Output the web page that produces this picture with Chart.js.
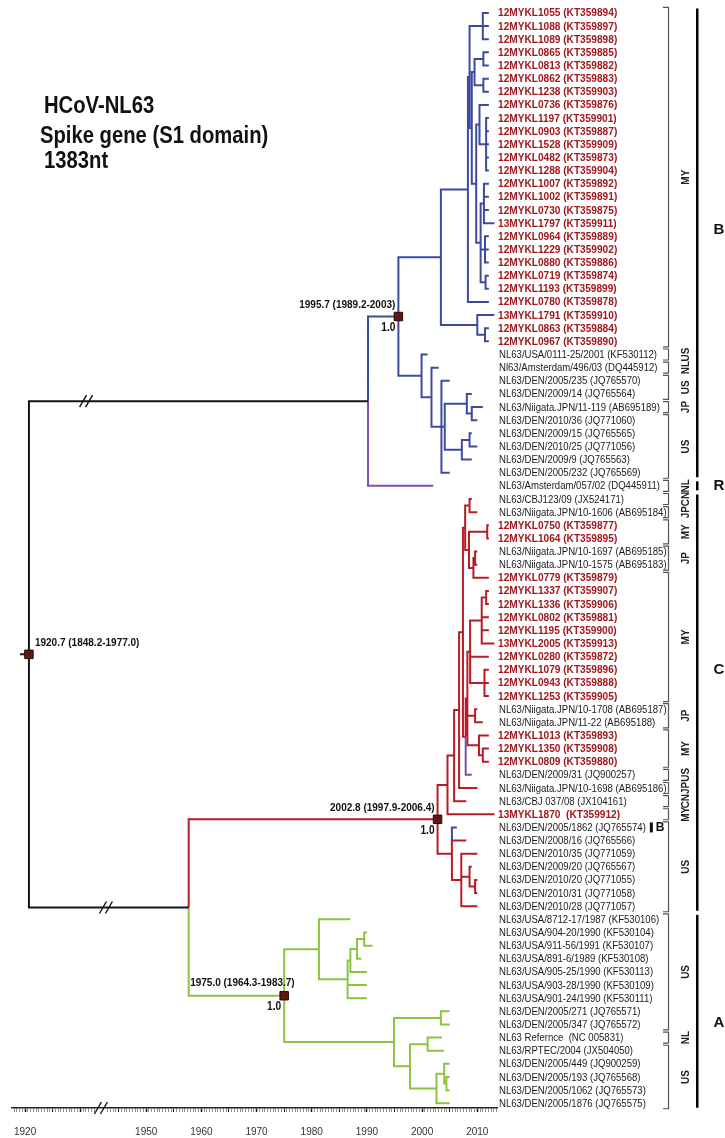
<!DOCTYPE html>
<html>
<head>
<meta charset="utf-8">
<script src="https://cdn.jsdelivr.net/npm/chart.js@4.4.1/dist/chart.umd.min.js"></script>
<style>
html, body { margin: 0; padding: 0; background: #fff; }
canvas { display: block; }
</style>
</head>
<body>
<canvas id="tree" width="725" height="1138"></canvas>
<script>
// tips, top to bottom
var leafNames = [
  '12MYKL1055 (KT359894)', '12MYKL1088 (KT359897)', '12MYKL1089 (KT359898)', '12MYKL0865 (KT359885)',
  '12MYKL0813 (KT359882)', '12MYKL0862 (KT359883)', '12MYKL1238 (KT359903)', '12MYKL0736 (KT359876)',
  '12MYKL1197 (KT359901)', '12MYKL0903 (KT359887)', '12MYKL1528 (KT359909)', '12MYKL0482 (KT359873)',
  '12MYKL1288 (KT359904)', '12MYKL1007 (KT359892)', '12MYKL1002 (KT359891)', '12MYKL0730 (KT359875)',
  '13MYKL1797 (KT359911)', '12MYKL0964 (KT359889)', '12MYKL1229 (KT359902)', '12MYKL0880 (KT359886)',
  '12MYKL0719 (KT359874)', '12MYKL1193 (KT359899)', '12MYKL0780 (KT359878)', '13MYKL1791 (KT359910)',
  '12MYKL0863 (KT359884)', '12MYKL0967 (KT359890)',
  'NL63/USA/0111-25/2001 (KF530112)', 'Nl63/Amsterdam/496/03 (DQ445912)', 'NL63/DEN/2005/235 (JQ765570)',
  'NL63/DEN/2009/14 (JQ765564)', 'NL63/Niigata.JPN/11-119 (AB695189)', 'NL63/DEN/2010/36 (JQ771060)',
  'NL63/DEN/2009/15 (JQ765565)', 'NL63/DEN/2010/25 (JQ771056)', 'NL63/DEN/2009/9 (JQ765563)',
  'NL63/DEN/2005/232 (JQ765569)', 'NL63/Amsterdam/057/02 (DQ445911)',
  'NL63/CBJ123/09 (JX524171)', 'NL63/Niigata.JPN/10-1606 (AB695184)', '12MYKL0750 (KT359877)',
  '12MYKL1064 (KT359895)', 'NL63/Niigata.JPN/10-1697 (AB695185)', 'NL63/Niigata.JPN/10-1575 (AB695183)',
  '12MYKL0779 (KT359879)', '12MYKL1337 (KT359907)', '12MYKL1336 (KT359906)', '12MYKL0802 (KT359881)',
  '12MYKL1195 (KT359900)', '13MYKL2005 (KT359913)', '12MYKL0280 (KT359872)', '12MYKL1079 (KT359896)',
  '12MYKL0943 (KT359888)', '12MYKL1253 (KT359905)', 'NL63/Niigata.JPN/10-1708 (AB695187)',
  'NL63/Niigata.JPN/11-22 (AB695188)', '12MYKL1013 (KT359893)', '12MYKL1350 (KT359908)',
  '12MYKL0809 (KT359880)', 'NL63/DEN/2009/31 (JQ900257)', 'NL63/Niigata.JPN/10-1698 (AB695186)',
  'NL63/CBJ 037/08 (JX104161)', '13MYKL1870  (KT359912)',
  'NL63/DEN/2005/1862 (JQ765574)', 'NL63/DEN/2008/16 (JQ765566)', 'NL63/DEN/2010/35 (JQ771059)',
  'NL63/DEN/2009/20 (JQ765567)', 'NL63/DEN/2010/20 (JQ771055)', 'NL63/DEN/2010/31 (JQ771058)',
  'NL63/DEN/2010/28 (JQ771057)',
  'NL63/USA/8712-17/1987 (KF530106)', 'NL63/USA/904-20/1990 (KF530104)', 'NL63/USA/911-56/1991 (KF530107)',
  'NL63/USA/891-6/1989 (KF530108)', 'NL63/USA/905-25/1990 (KF530113)', 'NL63/USA/903-28/1990 (KF530109)',
  'NL63/USA/901-24/1990 (KF530111)', 'NL63/DEN/2005/271 (JQ765571)', 'NL63/DEN/2005/347 (JQ765572)',
  'NL63 Refernce  (NC 005831)', 'NL63/RPTEC/2004 (JX504050)', 'NL63/DEN/2005/449 (JQ900259)',
  'NL63/DEN/2005/193 (JQ765568)', 'NL63/DEN/2005/1062 (JQ765573)', 'NL63/DEN/2005/1876 (JQ765575)'
];

// where each tip ends on the time axis
var tipYears = [
  2012.1, 2012.1, 2012.1, 2012.1, 2012.1, 2012.1, 2012.1, 2012.1, 2012.1, 2012.1, 2012.1, 2012.1, 2012.1,
  2012.1, 2012.1, 2012.1, 2013.1, 2012.1, 2012.1, 2012.1, 2012.1, 2012.1, 2012.1, 2013.1, 2012.1, 2012.1,
  2001, 2003, 2005, 2009, 2011, 2010, 2009, 2010, 2009, 2005, 2002,
  2009, 2010, 2012.1, 2012.1, 2010, 2010, 2012.1, 2012.1, 2012.1, 2012.1, 2012.1, 2013.1, 2012.1, 2012.1,
  2012.1, 2012.1, 2010, 2011, 2012.1, 2012.1, 2012.1, 2009, 2010, 2008, 2013.1,
  2006.3, 2008, 2010, 2009, 2010, 2010, 2010,
  1987, 1990, 1991, 1989, 1990, 1990, 1990, 2005, 2005, 2003.6, 2004, 2005, 2005, 2005, 2005
];

// genotype of each tip (branch colour)
var genotype = ('BBBBBBBBBB BBBBBBBBBB BBBBBBBBBB BBBBBB R CCCCCCCCCC CCCCCCCCCC C R CCC B CCCCCC ' +
  'AAAAAAAAAA AAAAA').replace(/ /g, '').split('');

// [node year, child, child ...]; plain numbers are tip indexes
var tree =
[1920.7,
  [1990.2,
    [1995.7,
      [2003.4,
        [2008.3,
          [2008.6,
            [2011.0, 0, 1, 2],
            [2009.0,
              [2009.5, [2011.1, 3, 4], [2011.1, 5, 6]],
              [2009.8,
                [2010.4, 7, [2011.6, 8, 9, 10, 11, 12]],
                [2010.6, [2011.2, 13, 14, 15, 16], [2011.4, 17, 18, 19], [2011.5, 20, 21]]]]],
          22],
        [2010.0, 23, [2011.4, 24, 25]]],
      [1999.9, 26,
        [2001.7, 27,
          [2003.5, 28,
            [2004.1,
              [2008.1, 29, [2009.0, 30, 31]],
              [2007.2, [2008.6, 32, 33], 34]],
            35]]]],
    36],
  [1957.7,
    [2002.8,
      [2004.6,
        [2005.8,
          [2006.7,
            [2007.4,
              [2007.8, [2008.6, 37, 38], [2008.5, [2011.8, 39, 40], [2009.3, [2009.6, 41, 42], 43]]],
              [2007.9,
                [2008.2,
                  [2008.7, [2010.8, [2011.6, 44, 45], 46, 47, 48], 49, [2011.3, 50, 51, 52]],
                  [2009.6, 53, 54],
                  [2010.3, 55, [2011.0, 56, 57]]],
                58]],
            59],
          60],
        61],
      [2005.4, 62, 63, [2007.1, 64, [2008.6, 65, [2009.6, 66, 67]], 68]]],
    [1975.0,
      [1981.3, 69, [1986.5, [1987.0, [1988.2, [1989.5, 70, 71], 72], 73], 74, 75]],
      [1994.9, [2003.4, 76, 77], [1997.8, [2001.0, 78, 79], [2002.6, [2004.0, 80, [2004.4, 81, 82]], 83]]]]]];

// dated nodes: year, age label, posterior
var nodeDates = [
  [1920.7, '1920.7 (1848.2-1977.0)', ''],
  [1995.7, '1995.7 (1989.2-2003)', '1.0'],
  [2002.8, '2002.8 (1997.9-2006.4)', '1.0'],
  [1975.0, '1975.0 (1964.3-1983.7)', '1.0']
];

// country brackets: code, first tip, last tip
var countries = [
  ['MY', 0, 25], ['US', 26, 26], ['NL', 27, 27], ['US', 28, 29], ['JP', 30, 30], ['US', 31, 35],
  ['NL', 36, 36], ['CN', 37, 37], ['JP', 38, 38], ['MY', 39, 40], ['JP', 41, 42], ['MY', 43, 52],
  ['JP', 53, 54], ['MY', 55, 57], ['US', 58, 58], ['JP', 59, 59], ['CN', 60, 60], ['MY', 61, 61],
  ['US', 62, 68], ['US', 69, 77], ['NL', 78, 78], ['US', 79, 83]
];

// genotype bars: letter, first tip, last tip, tip row of the letter
var clades = [['B', 0, 35, 16.5], ['R', 36, 36, 36], ['C', 37, 68, 50], ['A', 69, 83, 76.9]];
var inlineMarks = [[62, 'B']];

var axisLabels = [1920, 1950, 1960, 1970, 1980, 1990, 2000, 2010];

var FONT = '"Liberation Sans", Arial, sans-serif';
var CUT = 8.05;   // years dropped by the axis break
function ax(year) { return year < 1945 ? year + CUT : year; }
function yearOf(v) { return Math.round((v < 1941 ? v - CUT : v) * 10) / 10; }

function build(n) {
  if (typeof n === 'number') return { x: tipYears[n], y: n, leaves: [n] };
  var kids = n.slice(1).map(build);
  var leaves = [];
  kids.forEach(function (k) { leaves = leaves.concat(k.leaves); });
  return { x: n[0], y: (kids[0].y + kids[kids.length - 1].y) / 2, leaves: leaves, kids: kids };
}
var root = build(tree);

var colours = { root: '#151515', A: '#8cc440', B: '#3c4b9d', C: '#b71c24', R: '#7c4fa6' };
var segs = { root: [], A: [], B: [], C: [], R: [] };
var dated = [];

function majority(leaves) {
  var count = {};
  leaves.forEach(function (i) { count[genotype[i]] = (count[genotype[i]] || 0) + 1; });
  return Object.keys(count).sort(function (a, b) { return count[b] - count[a]; })[0];
}

function walk(node, isRoot) {
  nodeDates.forEach(function (d, i) {
    if (d[0] === node.x) dated.push({ x: ax(node.x), y: node.y, text: d[1], post: d[2], idx: i });
  });
  node.kids.forEach(function (k) {
    var start = node.y;
    node.kids.forEach(function (s) {
      if (s !== k && (s.y - node.y) * (k.y - s.y) > 0 && Math.abs(k.y - s.y) < Math.abs(k.y - start)) start = s.y;
    });
    var g = isRoot ? 'root' : majority(k.leaves);
    segs[g].push({ x: ax(node.x), y: start }, { x: ax(node.x), y: k.y }, { x: ax(k.x), y: k.y }, { x: ax(k.x), y: null });
    if (k.kids) walk(k, false);
  });
}
segs.root.push({ x: ax(root.x) - 1.6, y: root.y }, { x: ax(root.x), y: root.y }, { x: ax(root.x), y: null });
walk(root, true);

var axisTicks = [];
for (var t = 1918; t <= 1932.5; t += 0.5) axisTicks.push(ax(t));
for (t = 1943; t <= 2013.5; t += 0.5) axisTicks.push(t);

var datasets = [{
  label: 'dated nodes',
  data: dated.map(function (d) { return { x: d.x, y: d.y }; }),
  showLine: false,
  pointStyle: 'rect',
  pointRadius: 6,
  pointHoverRadius: 6,
  pointBackgroundColor: '#5e1a12',
  pointBorderColor: '#2a0804',
  pointBorderWidth: 1
}];
['root', 'B', 'R', 'C', 'A'].forEach(function (g) {
  datasets.push({
    label: g,
    data: segs[g],
    showLine: true,
    spanGaps: false,
    borderColor: colours[g],
    borderWidth: 2,
    borderJoinStyle: 'miter',
    borderCapStyle: 'butt',
    pointRadius: 0,
    pointHoverRadius: 0
  });
});

function text(c, s, x, y, font, colour, sx, align) {
  c.save();
  c.font = font;
  c.fillStyle = colour;
  c.textBaseline = 'middle';
  c.textAlign = align || 'left';
  c.translate(x, y);
  c.scale(sx || 1, 1);
  c.fillText(s, 0, 0);
  var w = c.measureText(s).width * (sx || 1);
  c.restore();
  return w;
}

function slash(c, x, y) {
  c.save();
  c.strokeStyle = '#111';
  c.lineWidth = 1.4;
  [-3, 3].forEach(function (d) {
    c.beginPath();
    c.moveTo(x + d - 3.5, y + 6);
    c.lineTo(x + d + 3.5, y - 6);
    c.stroke();
  });
  c.restore();
}

var dateSide = ['after', 'before', 'before', 'across'];

var annotate = {
  id: 'annotate',
  afterDraw: function (chart) {
    var c = chart.ctx, xs = chart.scales.x, ys = chart.scales.y, area = chart.chartArea;
    function Y(i) { return ys.getPixelForValue(i); }

    text(c, 'HCoV-NL63', 44, 107, 'bold 23px ' + FONT, '#111', 0.88);
    text(c, 'Spike gene (S1 domain)', 40, 137, 'bold 23px ' + FONT, '#111', 0.88);
    text(c, '1383nt', 44, 162, 'bold 23px ' + FONT, '#111', 0.88);

    // tip labels
    var x0 = area.right + 2;
    leafNames.forEach(function (s, i) {
      var my = /MYKL/.test(s);
      var w = my ? text(c, s, x0 - 1, Y(i) + 0.5, 'bold 11px ' + FONT, '#a0171c', 0.92)
                 : text(c, s, x0, Y(i) + 0.5, '11px ' + FONT, '#1a1a1a', 0.87);
      inlineMarks.forEach(function (m) {
        if (m[0] !== i) return;
        c.fillStyle = '#111';
        c.fillRect(x0 + w + 4, Y(i) - 5, 3, 10);
        text(c, m[1], x0 + w + 10, Y(i) + 0.5, 'bold 12px ' + FONT, '#111', 1);
      });
    });

    // country brackets
    c.save();
    c.strokeStyle = '#555';
    c.lineWidth = 1.2;
    countries.forEach(function (g) {
      var top = Y(g[1]) - 5.5, bot = Y(g[2]) + 5.5;
      c.beginPath();
      c.moveTo(663, top); c.lineTo(668.5, top); c.lineTo(668.5, bot); c.lineTo(663, bot);
      c.stroke();
      c.save();
      c.translate(686, (top + bot) / 2);
      c.rotate(-Math.PI / 2);
      c.font = 'bold 10px ' + FONT;
      c.fillStyle = '#222';
      c.textAlign = 'center';
      c.textBaseline = 'middle';
      c.fillText(g[0], 0, 0);
      c.restore();
    });
    c.restore();

    // genotype bars
    clades.forEach(function (g) {
      var top = Y(g[1]) - 4.5, bot = Y(g[2]) + 4.5;
      c.fillStyle = '#000';
      c.fillRect(696, top, 2.5, bot - top);
      text(c, g[0], 719, Y(g[3]), 'bold 15px ' + FONT, '#111', 1, 'center');
    });

    // node ages and posteriors
    dated.forEach(function (d) {
      var px = xs.getPixelForValue(d.x), py = Y(d.y), side = dateSide[d.idx];
      var f = 'bold 10px ' + FONT;
      if (side === 'after') text(c, d.text, px + 6, py - 11, f, '#111', 1);
      else if (side === 'before') text(c, d.text, px - 3, py - 11, f, '#111', 1, 'right');
      else text(c, d.text, px - 94, py - 12, f, '#111', 1);
      if (d.post) text(c, d.post, px - 3, py + 11, 'bold 12px ' + FONT, '#111', 0.85, 'right');
    });

    // breaks in the root branches and the axis
    slash(c, xs.getPixelForValue(1939.1), Y(root.kids[0].y));
    slash(c, xs.getPixelForValue(1942.7), Y(root.kids[1].y));
    slash(c, xs.getPixelForValue(1941.8), area.bottom);
  }
};

new Chart(document.getElementById('tree'), {
  type: 'scatter',
  data: { datasets: datasets },
  options: {
    responsive: false,
    animation: false,
    devicePixelRatio: 1,
    events: [],
    layout: { padding: { left: 5, right: 228, top: 0, bottom: 0 } },
    plugins: { legend: { display: false }, tooltip: { enabled: false } },
    scales: {
      x: {
        type: 'linear',
        min: 1925.71,
        max: 2013.57,
        afterBuildTicks: function (s) { s.ticks = axisTicks.map(function (v) { return { value: v }; }); },
        afterFit: function (s) { s.height = 30; },
        grid: {
          drawOnChartArea: false,
          drawTicks: true,
          tickLength: 4,
          tickColor: function (ctx) { return ctx.tick && yearOf(ctx.tick.value) % 5 === 0 ? '#111' : '#444'; },
          tickWidth: function (ctx) {
            if (!ctx.tick) return 0.6;
            var y = yearOf(ctx.tick.value);
            return y % 10 === 0 ? 1.5 : (y % 5 === 0 ? 1 : 0.6);
          }
        },
        border: { display: true, color: '#222', width: 1.5 },
        ticks: {
          autoSkip: false,
          maxRotation: 0,
          padding: 14,
          color: '#333',
          font: { family: FONT, size: 10 },
          callback: function (v) { var y = yearOf(v); return axisLabels.indexOf(y) >= 0 ? String(y) : ''; }
        }
      },
      y: { type: 'linear', reverse: true, min: -0.454, max: 83.36, display: false }
    }
  },
  plugins: [annotate]
});
</script>
</body>
</html>
